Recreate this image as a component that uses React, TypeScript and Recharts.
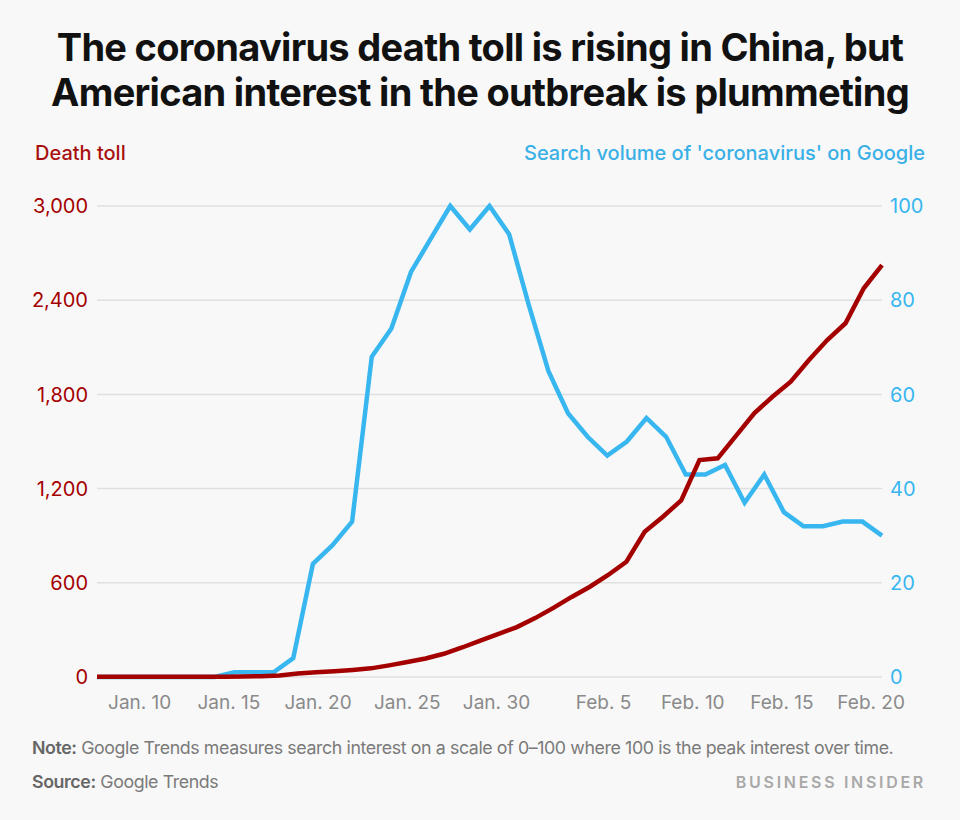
import React from 'react';
import { LineChart, Line, XAxis, YAxis, CartesianGrid } from 'recharts';

// Cumulative death toll in China
const deathToll = [
  1, 1, 1, 1, 1, 1, 2, 2, 3, 5, 10, 22, 30, 37, 45, 55, 74, 95, 118, 148, 188, 232,
  275, 318, 375, 440, 510, 575, 650, 734, 925, 1021, 1125, 1382, 1393, 1536, 1680,
  1785, 1881, 2019, 2146, 2253, 2476, 2624,
];

// Google Trends search volume for 'coronavirus' (0-100)
const searchVolume = [
  0, 0, 0, 0, 0, 0, 0, 1, 1, 1, 4, 24, 28, 33, 68, 74, 86, 93, 100, 95, 100, 94, 79,
  65, 56, 51, 47, 50, 55, 51, 43, 43, 45, 37, 43, 35, 32, 32, 33, 33, 30,
];

// date labels: days counted from Jan. 8, the axis spans 44 days
const SPAN_DAYS = 44;
const tickDays = [2, 7, 12, 17, 22, 28, 33, 38, 43];
const tickLabels = ['Jan. 10', 'Jan. 15', 'Jan. 20', 'Jan. 25', 'Jan. 30', 'Feb. 5', 'Feb. 10', 'Feb. 15', 'Feb. 20'];

const deathTicks = [0, 600, 1200, 1800, 2400, 3000];
const searchTicks = [0, 20, 40, 60, 80, 100];

const RED = '#a50000';
const BLUE = '#38b6f0';
const FONT = 'Inter, "Noto Sans", sans-serif';

const deathData = deathToll.map((v, i) => ({ i, v }));
const searchData = searchVolume.map((v, i) => ({ i, v }));

// the red series shares the date axis; ticks are placed in its index units
const redLast = deathToll.length - 1;
const dateTickValues = tickDays.map((d) => (d * redLast) / SPAN_DAYS);

export default function App() {
  return (
    <div
      style={{
        position: 'absolute',
        left: 0,
        top: 0,
        width: 960,
        height: 820,
        background: '#f8f8f8',
        fontFamily: FONT,
        overflow: 'hidden',
      }}
    >
      <LineChart
        width={960}
        height={820}
        margin={{ top: 206, right: 18, bottom: 103, left: 37 }}
        style={{ position: 'absolute', left: 0, top: 0 }}
      >
        <CartesianGrid xAxisId="dates" yAxisId="deaths" vertical={false} stroke="#e0e0e0" strokeWidth={1.5} />
        <XAxis
          xAxisId="dates"
          dataKey="i"
          type="number"
          domain={[0, redLast]}
          ticks={dateTickValues}
          tickFormatter={(v) => tickLabels[dateTickValues.indexOf(v)]}
          interval={0}
          height={40}
          tickSize={0}
          tickMargin={19}
          tickLine={false}
          axisLine={false}
          tick={{ fill: '#8a8a8a', fontSize: 19, dx: 7, fontFamily: FONT }}
        />
        <XAxis xAxisId="blue" dataKey="i" type="number" domain={[0, searchVolume.length - 1]} height={0} hide />
        <YAxis
          yAxisId="deaths"
          orientation="left"
          domain={[0, 3000]}
          ticks={deathTicks}
          width={60}
          tickSize={0}
          tickMargin={9}
          tickLine={false}
          axisLine={false}
          tickFormatter={(v) => v.toLocaleString('en-US')}
          tick={{ fill: RED, fontSize: 20, fontFamily: FONT }}
        />
        <YAxis
          yAxisId="search"
          orientation="right"
          domain={[0, 100]}
          ticks={searchTicks}
          width={60}
          tickSize={0}
          tickMargin={8}
          tickLine={false}
          axisLine={false}
          tick={{ fill: BLUE, fontSize: 20, fontFamily: FONT }}
        />
        <Line
          xAxisId="blue"
          yAxisId="search"
          data={searchData}
          dataKey="v"
          stroke={BLUE}
          strokeWidth={4.5}
          dot={false}
          isAnimationActive={false}
        />
        <Line
          xAxisId="dates"
          yAxisId="deaths"
          data={deathData}
          dataKey="v"
          stroke={RED}
          strokeWidth={4.5}
          dot={false}
          isAnimationActive={false}
        />
      </LineChart>

      <div
        style={{
          position: 'absolute',
          left: 0,
          top: 25,
          width: 960,
          textAlign: 'center',
          fontWeight: 700,
          fontSize: 38,
          lineHeight: '45px',
          letterSpacing: -0.7,
          color: '#111',
        }}
      >
        The coronavirus death toll is rising in China, but
        <br />
        American interest in the outbreak is plummeting
      </div>

      <div style={{ position: 'absolute', left: 35, top: 141, fontSize: 20, fontWeight: 500, color: '#a81010' }}>
        Death toll
      </div>
      <div style={{ position: 'absolute', right: 35, top: 141, fontSize: 20, fontWeight: 500, color: '#3ab0e6' }}>
        Search volume of 'coronavirus' on Google
      </div>

      <div style={{ position: 'absolute', left: 32, top: 737, fontSize: 17.8, color: '#7a7a7a', letterSpacing: -0.4 }}>
        <span style={{ fontWeight: 600, color: '#666' }}>Note:</span> Google Trends measures search interest on a
        scale of 0–100 where 100 is the peak interest over time.
      </div>
      <div style={{ position: 'absolute', left: 32, top: 771, fontSize: 17.8, color: '#7a7a7a', letterSpacing: -0.4 }}>
        <span style={{ fontWeight: 600, color: '#666' }}>Source:</span> Google Trends
      </div>
      <div
        style={{
          position: 'absolute',
          right: 34,
          top: 772,
          fontSize: 16,
          fontWeight: 600,
          color: '#a8a8a8',
          letterSpacing: 2.7,
        }}
      >
        BUSINESS INSIDER
      </div>
    </div>
  );
}
